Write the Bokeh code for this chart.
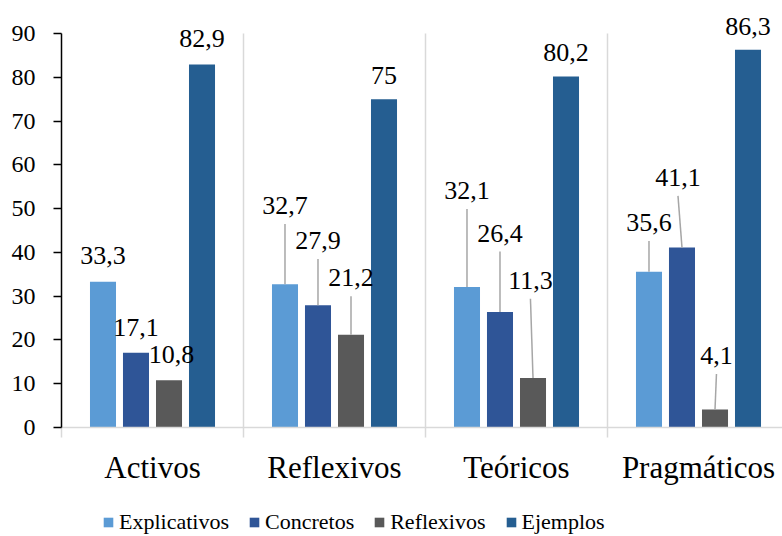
import numpy as np
from bokeh.plotting import figure
from bokeh.layouts import column
from bokeh.models import FixedTicker, Legend, LegendItem, Range1d
from bokeh.core.properties import value
from bokeh.embed import file_html
from bokeh.resources import INLINE

categories = ["Activos", "Reflexivos", "Teóricos", "Pragmáticos"]
series = ["Explicativos", "Concretos", "Reflexivos", "Ejemplos"]
explicativos = [33.3, 32.7, 32.1, 35.6]
concretos = [17.1, 27.9, 26.4, 41.1]
reflexivos = [10.8, 21.2, 11.3, 4.1]
ejemplos = [82.9, 75.0, 80.2, 86.3]
y_ticks = [0, 10, 20, 30, 40, 50, 60, 70, 80, 90]

colors = ["#5B9BD5", "#2F5597", "#595959", "#255E91"]
offsets = [-0.272, -0.0907, 0.0907, 0.272]
bar_w = 0.143
# label placement (style): dy in data units above the bar, dx in group units
label_dy = [[6.0, 5.7, 5.9, 6.0],
            [18.0, 14.8, 13.0, 5.5],
            [22.0, 18.0, 22.3, 5.5],
            [11.2, 16.0, 12.3, 5.2]]
label_dx = [[0, 0, 0.014, 0],
            [0, 0, 0, 0],
            [0, 0, -0.014, 0],
            [0, -0.022, 0.008, 0]]

FONT = "Liberation Serif"
scale = 394 / 90.0  # px per unit
frame_h = 416
y_top = frame_h / scale

p = figure(output_backend="svg", toolbar_location=None,
           frame_width=721, frame_height=frame_h,
           x_range=(0, 721 / 182), y_range=(0, y_top),
           min_border_left=61, min_border_top=11, min_border_bottom=62,
           min_border_right=0)
p.outline_line_color = None
p.background_fill_color = "white"
p.border_fill_color = "white"

values = [explicativos, concretos, reflexivos, ejemplos]
ng = len(categories)
gx = np.arange(ng) + 0.5

# group separators
sep = list(range(1, ng))
p.segment(x0=sep, y0=[0] * len(sep), x1=sep, y1=[y_ticks[-1]] * len(sep),
          line_color="#D9D9D9", line_width=1.5)

for s, (name, vals, col, off) in enumerate(zip(series, values, colors, offsets)):
    p.vbar(x=gx + off, top=vals, width=bar_w, bottom=0, fill_color=col,
           line_color=None)

# data labels with leader lines
lx, ly, lt = [], [], []
x0s, y0s, x1s, y1s = [], [], [], []
for s, vals in enumerate(values):
    for g, v in enumerate(vals):
        bx = gx[g] + offsets[s]
        tx = bx + label_dx[g][s]
        ty = v + label_dy[g][s]
        lx.append(tx); ly.append(ty)
        lt.append(f"{v:g}".replace(".", ","))
        if label_dy[g][s] > 8:
            x0s.append(tx); y0s.append(ty - 4.2)
            x1s.append(bx); y1s.append(v)
p.segment(x0=x0s, y0=y0s, x1=x1s, y1=y1s, line_color="#A6A6A6", line_width=1.5)
p.text(x=lx, y=ly, text=lt, text_align="center", text_baseline="middle",
       text_font=value(FONT), text_font_size="26px", text_color="#000000")

# axes
p.yaxis.ticker = FixedTicker(ticks=y_ticks)
p.yaxis.bounds = (0, y_ticks[-1])
p.yaxis.axis_line_color = "black"
p.yaxis.axis_line_width = 1.5
p.yaxis.major_tick_line_color = "black"
p.yaxis.major_tick_line_width = 1.5
p.yaxis.major_tick_out = 8
p.yaxis.major_tick_in = 0
p.yaxis.minor_tick_line_color = None
p.yaxis.major_label_text_font = FONT
p.yaxis.major_label_text_font_size = "24px"
p.yaxis.major_label_text_color = "black"
p.yaxis.major_label_standoff = 18

p.xaxis.ticker = FixedTicker(ticks=list(gx), minor_ticks=list(range(ng + 1)))
p.xaxis.major_label_overrides = {float(x): c for x, c in zip(gx, categories)}
p.xaxis.axis_line_color = "#D9D9D9"
p.xaxis.axis_line_width = 1.5
p.xaxis.major_tick_line_color = None
p.xaxis.major_tick_out = 0
p.xaxis.major_tick_in = 0
p.xaxis.minor_tick_line_color = "#D9D9D9"
p.xaxis.minor_tick_line_width = 1.5
p.xaxis.minor_tick_out = 10
p.xaxis.minor_tick_in = 0
p.xaxis.major_label_text_font = FONT
p.xaxis.major_label_text_font_size = "31px"
p.xaxis.major_label_text_color = "black"
p.xaxis.major_label_standoff = 12

p.grid.grid_line_color = None

# legend in its own strip below the chart (bars kept out of its visible range)
leg = figure(output_backend="svg", toolbar_location=None, width=782, height=47,
             min_border=0, x_range=Range1d(-1000, -999), y_range=Range1d(-1000, -999))
leg.axis.visible = False
leg.grid.grid_line_color = None
leg.outline_line_color = None
items = []
for name, vals, col, off in zip(series, values, colors, offsets):
    r = leg.vbar(x=gx + off, top=vals, bottom=0, width=bar_w,
                 fill_color=col, line_color=None)
    items.append(LegendItem(label=name, renderers=[r]))
legend = Legend(items=items, orientation="horizontal", location=(41, 1),
                glyph_width=12, glyph_height=12, label_standoff=5, spacing=19,
                padding=0, margin=0, border_line_color=None,
                background_fill_alpha=0,
                label_text_font=FONT, label_text_font_size="22px",
                label_text_color="black")
leg.add_layout(legend, "center")

layout = column(p, leg, spacing=0)
open("out.html", "w").write(file_html(layout, INLINE))
